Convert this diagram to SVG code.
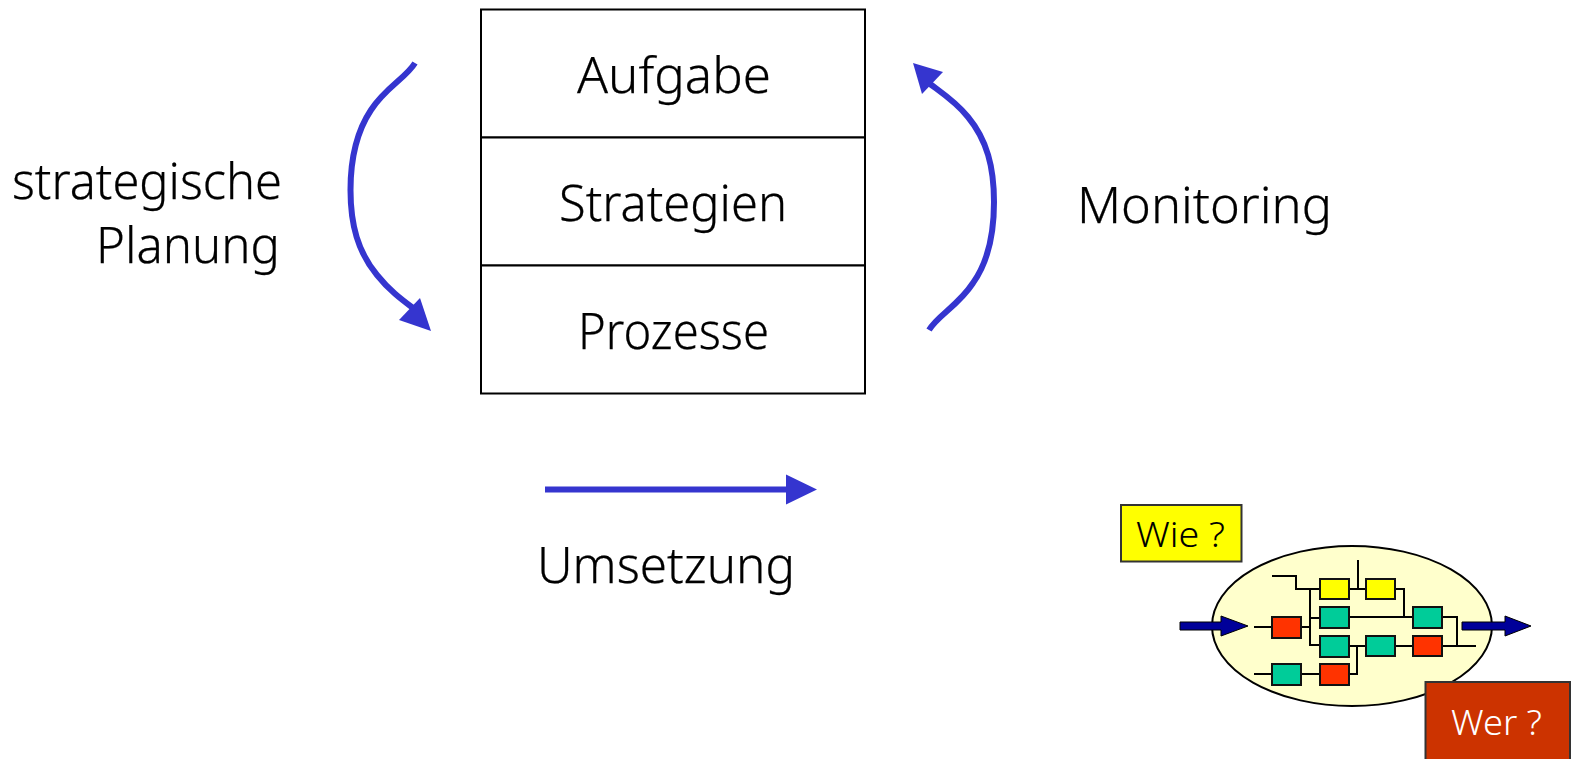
<svg xmlns="http://www.w3.org/2000/svg" width="1572" height="759" viewBox="0 0 1572 759">
<style>
text{font-family:"Noto Sans","Open Sans","Liberation Sans",sans-serif;font-weight:300;fill:#000}
.big{font-size:50px;stroke:#000;stroke-width:.25}
.cell{fill:#fff;stroke:#000;stroke-width:2}
.blue{fill:none;stroke:#3535cf;stroke-width:6}
.head{fill:#3535cf}
.w{fill:none;stroke:#000;stroke-width:2}
.b{stroke:#111;stroke-width:2}
.y{fill:#ff0}.g{fill:#00cc99}.r{fill:#ff3300}
.nav{fill:#000099;stroke:#000;stroke-width:1}
</style>
<rect width="1572" height="759" fill="#fff"/>
<g id="node-aufgabe"><rect class="cell" x="481" y="9.500" width="384" height="128"/><text class="big" x="577" y="93" textLength="194" lengthAdjust="spacingAndGlyphs">Aufgabe</text></g>
<g id="node-strategien"><rect class="cell" x="481" y="137.500" width="384" height="128"/><text class="big" x="559" y="221" textLength="228" lengthAdjust="spacingAndGlyphs">Strategien</text></g>
<g id="node-prozesse"><rect class="cell" x="481" y="265.500" width="384" height="128"/><text class="big" x="578" y="349" textLength="191" lengthAdjust="spacingAndGlyphs">Prozesse</text></g>
<g id="node-planung"><text class="big" x="12" y="199" textLength="270" lengthAdjust="spacingAndGlyphs">strategische</text><text class="big" x="96" y="263" textLength="184" lengthAdjust="spacingAndGlyphs">Planung</text></g>
<g id="node-monitoring"><text class="big" x="1077" y="223" textLength="255" lengthAdjust="spacingAndGlyphs">Monitoring</text></g>
<g id="node-umsetzung"><text class="big" x="537" y="583" textLength="258" lengthAdjust="spacingAndGlyphs">Umsetzung</text></g>
<g id="connectors">
<path class="blue" d="M415 63C406 78 386 87 371 110C357 131 350.500 160 350.500 190C350.500 225 358 252 377 275C389 290 401 299 413 308"/>
<polygon class="head" points="399,320 420,298 431,331"/>
<path class="blue" d="M929 330C938 315 958 306 973 283C988 262 994 232 994 202C994 167 987 140 968 117C956 102 942 93 930 84"/>
<polygon class="head" points="943,72 922,94 913,63"/>
<line class="blue" x1="545" y1="489.500" x2="790" y2="489.500"/>
<polygon class="head" points="786,474.500 817,489.500 786,504.500"/>
</g>
<g id="node-process">
<ellipse cx="1352" cy="626" rx="140" ry="80" fill="#ffffcc" stroke="#000" stroke-width="2"/>
<g class="w">
<path d="M1272 576H1296V589H1320"/><path d="M1310 589V645H1320"/><path d="M1310 627V618H1320"/><path d="M1302 627H1310"/>
<path d="M1254 627H1272"/><path d="M1349 589H1366"/><path d="M1358 560V589"/><path d="M1395 589H1404V617H1413"/>
<path d="M1349 617H1413"/><path d="M1442 617H1457V645"/><path d="M1442 646H1476"/>
<path d="M1349 646H1366"/><path d="M1395 646H1413"/><path d="M1357 646V674H1349"/>
<path d="M1254 674H1272"/><path d="M1302 674H1320"/>
</g>
<rect class="y b" x="1320" y="579" width="29" height="20"/><rect class="y b" x="1366" y="579" width="29" height="20"/>
<rect class="g b" x="1320" y="607" width="29" height="21"/><rect class="g b" x="1413" y="607" width="29" height="21"/>
<rect class="r b" x="1272" y="617" width="29" height="21"/>
<rect class="g b" x="1320" y="636" width="29" height="21"/><rect class="g b" x="1366" y="636" width="29" height="20"/><rect class="r b" x="1413" y="636" width="29" height="20"/>
<rect class="g b" x="1272" y="664" width="29" height="21"/><rect class="r b" x="1320" y="664" width="29" height="21"/>
<polygon class="nav" points="1180,622 1221,622 1221,616 1248,626 1221,636 1221,630 1180,630"/>
<polygon class="nav" points="1462,622 1505,622 1505,616 1531,626 1505,636 1505,630 1462,630"/>
</g>
<g id="node-wie"><rect x="1121" y="505" width="120.500" height="56.500" fill="#ff0" stroke="#333" stroke-width="2"/><text x="1136" y="547" font-size="35" textLength="89" lengthAdjust="spacingAndGlyphs">Wie ?</text></g>
<g id="node-wer"><rect x="1425.500" y="682" width="144.500" height="80" fill="#cc3300" stroke="#333" stroke-width="2"/><text x="1451" y="735" font-size="35" textLength="91" lengthAdjust="spacingAndGlyphs" style="fill:#fff">Wer ?</text></g>
</svg>
